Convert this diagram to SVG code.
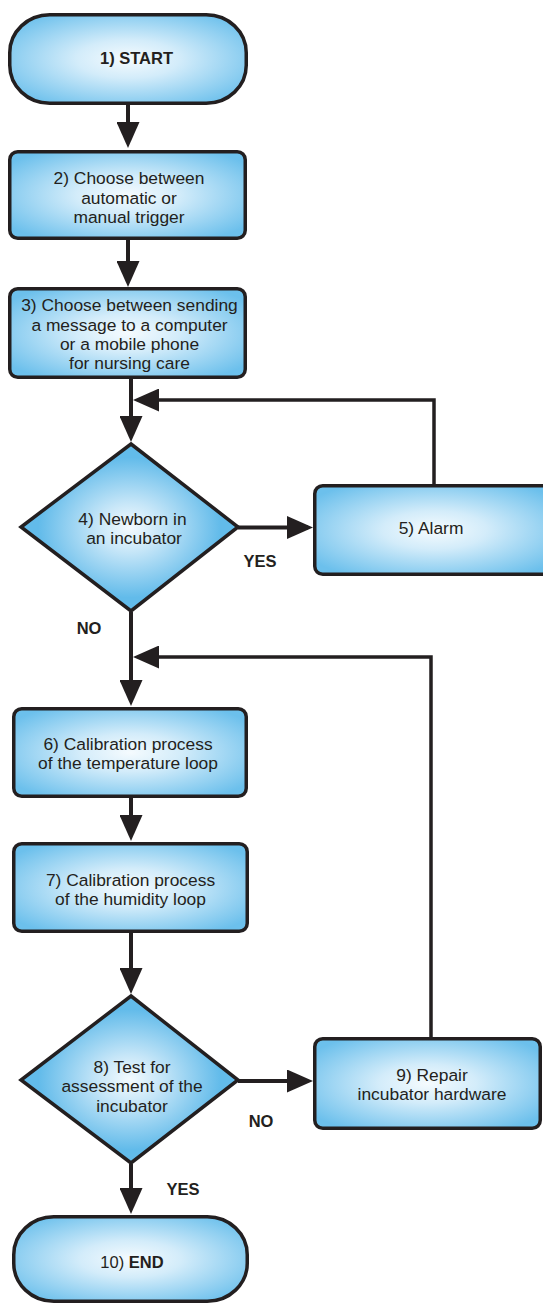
<svg xmlns="http://www.w3.org/2000/svg" width="543" height="1305" viewBox="0 0 543 1305">
<defs>
<radialGradient id="gBox" cx="50%" cy="50%" r="62%">
<stop offset="0" stop-color="#f5fbfe"/>
<stop offset="0.35" stop-color="#d3ecfa"/>
<stop offset="1" stop-color="#6cc0ec"/>
</radialGradient>
<radialGradient id="gDia" cx="50%" cy="50%" r="42%">
<stop offset="0" stop-color="#f5fbfe"/>
<stop offset="0.35" stop-color="#c6e6f8"/>
<stop offset="1" stop-color="#62bbea"/>
</radialGradient>
<marker id="ah" markerUnits="userSpaceOnUse" markerWidth="26" markerHeight="23" viewBox="0 0 26 23" refX="21" refY="11.5" orient="auto">
<path d="M0,0 L26,11.5 L0,23 z" fill="#231f20"/>
</marker>
</defs>
<style>
.box{fill:url(#gBox);stroke:#231f20;stroke-width:3.5}
.dia{fill:url(#gDia);stroke:#231f20;stroke-width:3.5;stroke-linejoin:miter}
.t{font-family:"Liberation Sans",Arial,sans-serif;font-size:17.4px;fill:#231f20;text-anchor:middle}
.b{font-family:"Liberation Sans",Arial,sans-serif;font-size:16.5px;font-weight:bold;fill:#231f20;text-anchor:middle}
.c{fill:none;stroke:#231f20;stroke-width:4}
.l{fill:none;stroke:#231f20;stroke-width:3.5}
</style>
<g id="connectors">
<line class="c" x1="128" y1="104" x2="128" y2="143" marker-end="url(#ah)"/>
<line class="c" x1="128" y1="240" x2="128" y2="282" marker-end="url(#ah)"/>
<line class="c" x1="131" y1="379" x2="131" y2="437" marker-end="url(#ah)"/>
<line class="c" x1="131" y1="612" x2="131" y2="701" marker-end="url(#ah)"/>
<line class="c" x1="131" y1="798" x2="131" y2="836" marker-end="url(#ah)"/>
<line class="c" x1="131" y1="933" x2="131" y2="989" marker-end="url(#ah)"/>
<line class="c" x1="131" y1="1164" x2="131" y2="1209" marker-end="url(#ah)"/>
<line class="c" x1="238" y1="527.5" x2="308" y2="527.5" marker-end="url(#ah)"/>
<line class="c" x1="238" y1="1081" x2="308" y2="1081" marker-end="url(#ah)"/>
<polyline class="l" points="434,485 434,400 138,400" marker-end="url(#ah)"/>
<polyline class="l" points="431,1038 431,657 138,657" marker-end="url(#ah)"/>
</g>
<g id="n1">
<rect class="box" x="9.75" y="14.75" width="236.5" height="88.5" rx="40" ry="38"/>
<text class="b" x="136.5" y="64">1) START</text>
</g>
<g id="n2">
<rect class="box" x="9.75" y="151.75" width="235.5" height="86.5" rx="8"/>
<text class="t" x="129" y="184">2) Choose between</text>
<text class="t" x="129" y="203.5">automatic or</text>
<text class="t" x="129" y="223">manual trigger</text>
</g>
<g id="n3">
<rect class="box" x="9.75" y="288.75" width="235.5" height="88.5" rx="8"/>
<text class="t" x="129.5" y="311">3) Choose between sending</text>
<text class="t" x="129.5" y="330.5">a message to a computer</text>
<text class="t" x="129.5" y="349.5">or a mobile phone</text>
<text class="t" x="129.5" y="369">for nursing care</text>
</g>
<g id="n4">
<polygon class="dia" points="131,444 238,527 131,611 21,527"/>
<text class="t" x="132.5" y="525">4) Newborn in</text>
<text class="t" x="134" y="544">an incubator</text>
</g>
<g id="n5">
<rect class="box" x="314.75" y="485.75" width="240" height="88.5" rx="8"/>
<text class="t" x="431" y="534">5) Alarm</text>
</g>
<g id="n6">
<rect class="box" x="13.75" y="708.75" width="232.5" height="87.5" rx="8"/>
<text class="t" x="128" y="750">6) Calibration process</text>
<text class="t" x="128" y="769">of the temperature loop</text>
</g>
<g id="n7">
<rect class="box" x="13.75" y="843.75" width="233.5" height="87.5" rx="8"/>
<text class="t" x="130.5" y="886">7) Calibration process</text>
<text class="t" x="130.5" y="905">of the humidity loop</text>
</g>
<g id="n8">
<polygon class="dia" points="131,996 238,1080 131,1163 21,1080"/>
<text class="t" x="132" y="1073">8) Test for</text>
<text class="t" x="132" y="1092">assessment of the</text>
<text class="t" x="132" y="1112">incubator</text>
</g>
<g id="n9">
<rect class="box" x="314.75" y="1038.75" width="225.5" height="89.5" rx="8"/>
<text class="t" x="432" y="1081">9) Repair</text>
<text class="t" x="432" y="1100">incubator hardware</text>
</g>
<g id="n10">
<rect class="box" x="13.75" y="1216.75" width="233.5" height="84.5" rx="40" ry="38"/>
<text class="b" x="132" y="1268"><tspan font-weight="normal">10) </tspan>END</text>
</g>
<g id="labels">
<text class="b" x="260" y="567">YES</text>
<text class="b" x="89" y="634">NO</text>
<text class="b" x="261" y="1127">NO</text>
<text class="b" x="183" y="1195">YES</text>
</g>
</svg>
